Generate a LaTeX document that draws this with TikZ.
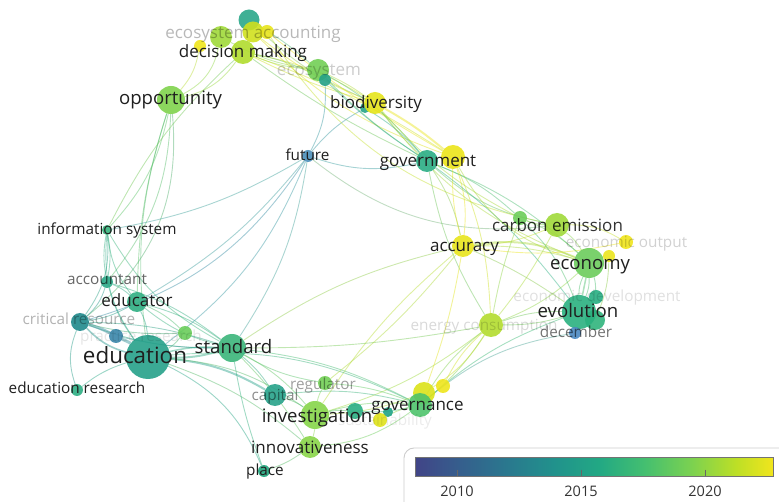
\documentclass[tikz,border=0pt]{standalone}
\usepackage{fontspec}
\setmainfont{Open Sans}
\usetikzlibrary{backgrounds}
% node colours
\definecolor{cedu}{HTML}{26A18A}
\definecolor{cstd}{HTML}{3BB57A}
\definecolor{cedr}{HTML}{2FAE82}
\definecolor{cacc}{HTML}{2BA887}
\definecolor{cinf}{HTML}{35B47C}
\definecolor{ccrit}{HTML}{1F8A8C}
\definecolor{cprac}{HTML}{3A86AA}
\definecolor{cgrn}{HTML}{6ACD5B}
\definecolor{cedres}{HTML}{2DAE83}
\definecolor{copp}{HTML}{80D34D}
\definecolor{cdm}{HTML}{B0DC2E}
\definecolor{ceca1}{HTML}{2AA78A}
\definecolor{ceca2}{HTML}{A0D93A}
\definecolor{ceca3}{HTML}{D0E01E}
\definecolor{ceca4}{HTML}{E8E41C}
\definecolor{ceca5}{HTML}{F0E51C}
\definecolor{ceco}{HTML}{72CF55}
\definecolor{ceco2}{HTML}{24A187}
\definecolor{cbio}{HTML}{E6E41B}
\definecolor{cbio2}{HTML}{25A387}
\definecolor{cfut}{HTML}{4A8FBA}
\definecolor{cgov}{HTML}{2AAD84}
\definecolor{cgov2}{HTML}{EBE41A}
\definecolor{ccar}{HTML}{A0D93A}
\definecolor{ccar2}{HTML}{6CCD5A}
\definecolor{caccu}{HTML}{E8E41B}
\definecolor{cecout}{HTML}{EFE41C}
\definecolor{cecout2}{HTML}{EBE41D}
\definecolor{cecon}{HTML}{6BCC5C}
\definecolor{cecdev}{HTML}{26AE82}
\definecolor{cevo}{HTML}{2AB07F}
\definecolor{cevo2}{HTML}{30B47C}
\definecolor{cdec}{HTML}{4A88C2}
\definecolor{cenc}{HTML}{B2DC2E}
\definecolor{cgvn}{HTML}{4EC36B}
\definecolor{cgvn2}{HTML}{DCE21A}
\definecolor{cgvn3}{HTML}{EEE51C}
\definecolor{cinv}{HTML}{86D549}
\definecolor{ccap}{HTML}{27A28A}
\definecolor{creg}{HTML}{72CF55}
\definecolor{csus}{HTML}{DFE21A}
\definecolor{csustwo}{HTML}{2AAE82}
\definecolor{csusthree}{HTML}{20A386}
\definecolor{cinn}{HTML}{88D548}
\definecolor{cplc}{HTML}{1FA57C}
% colour bar
\definecolor{vA}{HTML}{414487}
\definecolor{vB}{HTML}{355F8D}
\definecolor{vC}{HTML}{2A788E}
\definecolor{vD}{HTML}{21918C}
\definecolor{vE}{HTML}{22A884}
\definecolor{vF}{HTML}{44BF70}
\definecolor{vG}{HTML}{7AD151}
\definecolor{vH}{HTML}{BDDF26}
\definecolor{vI}{HTML}{F1E51D}
\pgfdeclarehorizontalshading{viridisbar}{100bp}{color(0bp)=(vA); color(25bp)=(vA); color(31.4bp)=(vB); color(37.8bp)=(vC); color(44.25bp)=(vD); color(50.65bp)=(vE); color(57.05bp)=(vF); color(63.45bp)=(vG); color(69.85bp)=(vH); color(75bp)=(vI); color(100bp)=(vI)}
\newcommand\lnk[4][]{\draw[edgeln,draw=c#2!50!c#3,#1] (#2) to[#4] (#3);}
\begin{document}
\begin{tikzpicture}[x=1pt,y=-1pt,
  nd/.style={circle,inner sep=0pt,fill opacity=0.9,draw=none},
  edgeln/.style={line width=0.9pt,opacity=0.45},
  lb/.style={inner sep=0pt,anchor=base,text=black!88},
  fbig/.style={font=\fontsize{22.4}{22.4}\selectfont},
  fmid/.style={font=\fontsize{18.6}{18.6}\selectfont},
  fnorm/.style={font=\fontsize{17}{17}\selectfont},
  fsmall/.style={font=\fontsize{15.3}{15.3}\selectfont},
  faint/.style={text=black,text opacity=#1},
]
\useasboundingbox (0,0) rectangle (779,502);
% ---------- nodes ----------
\node[nd,fill=ceca1,minimum size=21pt] (eca1) at (249,20) {};
\node[nd,fill=ceca2,minimum size=22pt] (eca2) at (221,37) {};
\node[nd,fill=ceca3,minimum size=21pt] (eca3) at (253,32) {};
\node[nd,fill=ceca4,minimum size=14pt] (eca4) at (267,32) {};
\node[nd,fill=ceca5,minimum size=12pt] (eca5) at (200,46) {};
\node[nd,fill=cdm,minimum size=24pt] (dm) at (243,52) {};
\node[nd,fill=copp,minimum size=28pt] (opp) at (171,100) {};
\node[nd,fill=ceco,minimum size=22pt] (eco) at (318,70) {};
\node[nd,fill=ceco2,minimum size=12pt] (eco2) at (325,80) {};
\node[nd,fill=cbio2,minimum size=10pt] (bio2) at (365,108) {};
\node[nd,fill=cbio,minimum size=22pt] (bio) at (375,103) {};
\node[nd,fill=cfut,minimum size=12pt] (fut) at (308,156) {};
\node[nd,fill=cgov2,minimum size=24pt] (gov2) at (453,157) {};
\node[nd,fill=cgov,minimum size=22pt] (gov) at (427,161) {};
\node[nd,fill=ccar2,minimum size=14pt] (car2) at (520,218) {};
\node[nd,fill=ccar,minimum size=24pt] (car) at (557,225) {};
\node[nd,fill=caccu,minimum size=22pt] (accu) at (463,246) {};
\node[nd,fill=cecout,minimum size=14pt] (ecout) at (626,242) {};
\node[nd,fill=cecout2,minimum size=12pt] (ecout2) at (609,256) {};
\node[nd,fill=cecon,minimum size=30pt] (econ) at (589,263) {};
\node[nd,fill=cecdev,minimum size=14pt] (ecdev) at (596,297) {};
\node[nd,fill=cevo2,minimum size=20pt] (evo2) at (595,320) {};
\node[nd,fill=cevo,minimum size=34pt] (evo) at (579,312) {};
\node[nd,fill=cdec,minimum size=12pt] (dec) at (575,333) {};
\node[nd,fill=cenc,minimum size=24pt] (enc) at (491,325) {};
\node[nd,fill=cinf,minimum size=10pt] (inf) at (107,230) {};
\node[nd,fill=cacc,minimum size=12pt] (acc) at (107,282) {};
\node[nd,fill=cedr,minimum size=20pt] (edr) at (137,302) {};
\node[nd,fill=ccrit,minimum size=18pt] (crit) at (80,322) {};
\node[nd,fill=cprac,minimum size=14pt] (prac) at (116,336) {};
\node[nd,fill=cgrn,minimum size=14pt] (grn) at (185,333) {};
\node[nd,fill=cedu,minimum size=44pt] (edu) at (148,357) {};
\node[nd,fill=cstd,minimum size=28pt] (std) at (232,348) {};
\node[nd,fill=cedres,minimum size=12pt] (edres) at (77,390) {};
\node[nd,fill=ccap,minimum size=22pt] (cap) at (275,395) {};
\node[nd,fill=creg,minimum size=14pt] (reg) at (325,383) {};
\node[nd,fill=cinv,minimum size=28pt] (inv) at (315,415) {};
\node[nd,fill=csustwo,minimum size=16pt] (sustwo) at (355,411) {};
\node[nd,fill=csusthree,minimum size=10pt] (susthree) at (388,412) {};
\node[nd,fill=csus,minimum size=14pt] (sus) at (380,420) {};
\node[nd,fill=cgvn3,minimum size=14pt] (gvn3) at (443,386) {};
\node[nd,fill=cgvn2,minimum size=22pt] (gvn2) at (424,393) {};
\node[nd,fill=cgvn,minimum size=24pt] (gvn) at (420,405) {};
\node[nd,fill=cinn,minimum size=22pt] (inn) at (310,447) {};
\node[nd,fill=cplc,minimum size=12pt] (plc) at (264,471) {};
% ---------- edges ----------
\begin{pgfonlayer}{background}
% left
\lnk{inf}{opp}{bend right=15}
\lnk{crit}{opp}{bend right=28}
\lnk{acc}{opp}{bend right=18}
\lnk{edu}{opp}{bend left=12}
\lnk{inf}{dm}{bend left=10}
\lnk{dm}{opp}{bend left=20}
\lnk{eca5}{opp}{bend left=15}
\lnk{eca2}{opp}{bend left=25}
\lnk{edr}{opp}{bend left=8}
\lnk{inf}{acc}{bend left=10}
\lnk{inf}{acc}{bend right=10}
\lnk{inf}{crit}{bend left=20}
\lnk{inf}{edr}{bend right=15}
\lnk{inf}{edu}{bend right=20}
\lnk{inf}{std}{bend right=15}
\lnk{acc}{crit}{bend left=15}
\lnk{acc}{edu}{bend right=10}
\lnk{acc}{edr}{bend left=10}
\lnk{acc}{std}{bend left=10}
\lnk[line width=3pt]{crit}{prac}{bend left=5}
\lnk[line width=3pt]{prac}{edu}{bend left=5}
\lnk[line width=1.6pt]{crit}{edu}{bend right=15}
\lnk{crit}{std}{bend right=10}
\lnk{crit}{std}{bend left=8}
\lnk{crit}{grn}{bend right=8}
\lnk{crit}{edr}{bend right=10}
\lnk{edr}{std}{bend left=10}
\lnk{edr}{std}{bend right=12}
\lnk{edr}{edu}{bend left=10}
\lnk{edr}{grn}{bend left=10}
\lnk{edu}{grn}{bend right=10}
\lnk[line width=2pt]{edu}{std}{bend right=8}
\lnk[line width=1.5pt]{edu}{std}{bend left=8}
\lnk{edres}{edu}{bend left=10}
\lnk{crit}{edres}{bend right=20}
\lnk{prac}{std}{bend right=6}
% future
\lnk{fut}{edu}{bend left=15}
\lnk{fut}{crit}{bend left=20}
\lnk{fut}{std}{bend left=12}
\lnk{fut}{edr}{bend left=10}
\lnk{fut}{eco2}{bend right=15}
\lnk{fut}{bio2}{bend left=10}
\lnk{fut}{gov}{bend right=15}
\lnk{inf}{fut}{bend right=10}
\lnk{fut}{car}{bend right=22}
% top
\lnk{dm}{eco}{bend right=8}
\lnk{eca2}{eco}{bend right=10}
\lnk{eca1}{eco}{bend left=5}
\lnk{dm}{bio}{bend left=10}
\lnk{dm}{bio}{bend right=5}
\lnk{dm}{gov}{bend right=5}
\lnk{dm}{gov2}{bend left=6}
\lnk{dm}{eco2}{bend left=8}
\lnk{eca3}{gov2}{bend right=12}
\lnk{eca4}{car}{bend right=22}
\lnk{eca3}{bio}{bend right=8}
\lnk{eca1}{bio}{bend right=10}
\lnk{eca4}{gov2}{bend right=4}
\lnk{eco}{bio}{bend left=5}
\lnk{eco}{gov}{bend left=10}
\lnk{eco}{gov}{bend right=6}
\lnk{eco2}{gov}{bend right=5}
\lnk[line width=2pt]{bio}{gov2}{bend left=5}
\lnk{bio}{gov}{bend right=5}
\lnk{bio2}{gov}{bend left=8}
\lnk{bio}{econ}{bend right=15}
% right
\lnk{gov}{car}{bend right=15}
\lnk{gov}{car2}{bend left=10}
\lnk{gov}{econ}{bend left=10}
\lnk{gov}{accu}{bend left=10}
\lnk{gov2}{accu}{bend right=8}
\lnk{gov2}{accu}{bend left=12}
\lnk{gov}{enc}{bend right=10}
\lnk{gov}{evo}{bend left=8}
\lnk{gov2}{econ}{bend right=22}
\lnk{gov2}{enc}{bend left=10}
\lnk{bio}{car2}{bend right=10}
\lnk[line width=2pt]{accu}{econ}{bend left=15}
\lnk{accu}{econ}{bend left=8}
\lnk{accu}{ecout}{bend right=10}
\lnk{accu}{car}{bend right=10}
\lnk{accu}{evo}{bend left=5}
\lnk{car}{econ}{bend left=10}
\lnk{car2}{econ}{bend left=10}
\lnk{car}{ecout}{bend left=15}
\lnk{car2}{car}{bend right=10}
\lnk{econ}{evo}{bend left=12}
\lnk{econ}{evo}{bend right=12}
\lnk[line width=1.5pt]{econ}{evo}{bend left=0}
\lnk{econ}{ecdev}{bend left=8}
\lnk{evo}{ecdev}{bend left=8}
\lnk{evo}{dec}{bend left=8}
\lnk{econ}{ecout2}{bend left=8}
\lnk{evo2}{ecout2}{bend right=10}
\lnk{enc}{evo}{bend left=10}
\lnk{enc}{evo}{bend right=8}
\lnk{enc}{econ}{bend right=10}
\lnk{enc}{car2}{bend left=5}
\lnk{enc}{car}{bend right=5}
\lnk{car2}{evo}{bend left=12}
% bottom right
\lnk{enc}{gvn}{bend left=8}
\lnk{enc}{gvn}{bend right=10}
\lnk{enc}{gvn2}{bend left=12}
\lnk{enc}{gvn3}{bend right=10}
\lnk{enc}{inv}{bend left=10}
\lnk{dec}{gvn}{bend right=15}
\lnk{evo}{gvn}{bend right=10}
\lnk{accu}{gvn2}{bend left=5}
\lnk{accu}{inv}{bend right=8}
\lnk{accu}{std}{bend right=10}
\lnk{std}{enc}{bend right=5}
% bottom
\lnk[line width=2pt]{edu}{cap}{bend left=12}
\lnk{edu}{inv}{bend left=15}
\lnk{edu}{plc}{bend left=20}
\lnk{edu}{inn}{bend left=10}
\lnk{edu}{gvn}{bend left=15}
\lnk{std}{cap}{bend left=8}
\lnk{std}{inv}{bend left=10}
\lnk{std}{gvn}{bend left=10}
\lnk{std}{reg}{bend right=10}
\lnk{std}{inn}{bend left=6}
\lnk{cap}{inv}{bend left=8}
\lnk{inv}{reg}{bend left=8}
\lnk{inv}{inn}{bend left=8}
\lnk{inv}{sustwo}{bend left=8}
\lnk{inv}{gvn}{bend left=10}
\lnk{inv}{gvn2}{bend right=8}
\lnk{inn}{gvn}{bend right=15}
\lnk{inn}{plc}{bend left=8}
\lnk{plc}{std}{bend left=5}
\lnk{cap}{gvn}{bend left=10}
\lnk{reg}{gvn}{bend left=8}
\lnk{sus}{gvn}{bend left=8}
\lnk{sustwo}{gvn}{bend right=8}
\lnk{reg}{accu}{bend right=6}
\end{pgfonlayer}
% ---------- labels ----------
\node[lb,fbig] (l-edu) at (135,363) {education};
\node[lb,fmid] (l-std) at (233.5,354) {standard};
\node[lb,fnorm] (l-edr) at (137,307) {educator};
\node[lb,fsmall,faint=0.6] (l-acc) at (107,285) {accountant};
\node[lb,fsmall] (l-inf) at (107,235) {information system};
\node[lb,fsmall,faint=0.3] (l-crit) at (79,325) {critical resource};
\node[lb,fsmall,faint=0.1] (l-prac) at (141,342) {practice research};
\node[lb,fsmall] (l-edres) at (77,394) {education research};
\node[lb,fmid] (l-opp) at (170.5,105) {opportunity};
\node[lb,fnorm] (l-dm) at (243,58) {decision making};
\node[lb,fnorm,faint=0.28] (l-eca) at (253,39) {ecosystem accounting};
\node[lb,fnorm,faint=0.2] (l-eco) at (319,76) {ecosystem};
\node[lb,fnorm] (l-bio) at (376,109) {biodiversity};
\node[lb,fsmall] (l-fut) at (307.5,161) {future};
\node[lb,fnorm] (l-gov) at (428,167) {government};
\node[lb,fnorm,faint=0.8] (l-car) at (557.5,232) {carbon emission};
\node[lb,fnorm] (l-accu) at (464.5,252) {accuracy};
\node[lb,fsmall,faint=0.18] (l-ecout) at (626.5,248) {economic output};
\node[lb,fmid] (l-econ) at (590,270) {economy};
\node[lb,fsmall,faint=0.12] (l-ecdev) at (597,302) {economic development};
\node[lb,fmid] (l-evo) at (578,318) {evolution};
\node[lb,fsmall,faint=0.55] (l-dec) at (576,338) {december};
\node[lb,fsmall,faint=0.15] (l-enc) at (484,331) {energy consumption};
\node[lb,fsmall,faint=0.38] (l-reg) at (323,389) {regulator};
\node[lb,fsmall,faint=0.45] (l-cap) at (275,401) {capital};
\node[lb,fmid] (l-inv) at (317,422) {investigation};
\node[lb,fnorm] (l-gvn) at (417.5,410) {governance};
\node[lb,fsmall,faint=0.08] (l-sus) at (385,425) {sustainability};
\node[lb,fnorm] (l-inn) at (310,453) {innovativeness};
\node[lb,fsmall] (l-plc) at (265,475) {place};
% ---------- legend ----------
\draw[draw=black!20,line width=0.9pt,rounded corners=10pt] (404,448) rectangle (810,530);
\shade[shading=viridisbar] (415,457) rectangle (773,476);
\draw[draw=black!55,line width=0.7pt] (415,457) rectangle (773,476);
\foreach \tx/\yr in {457/2010,581/2015,705/2020}{
  \draw[black!60,line width=0.8pt] (\tx,469.5) -- (\tx,476);
  \node[inner sep=0pt,anchor=base,text=black!80,font=\fontsize{14.5}{14.5}\selectfont] at (\tx,496) {\yr};
}
\end{tikzpicture}
\end{document}
